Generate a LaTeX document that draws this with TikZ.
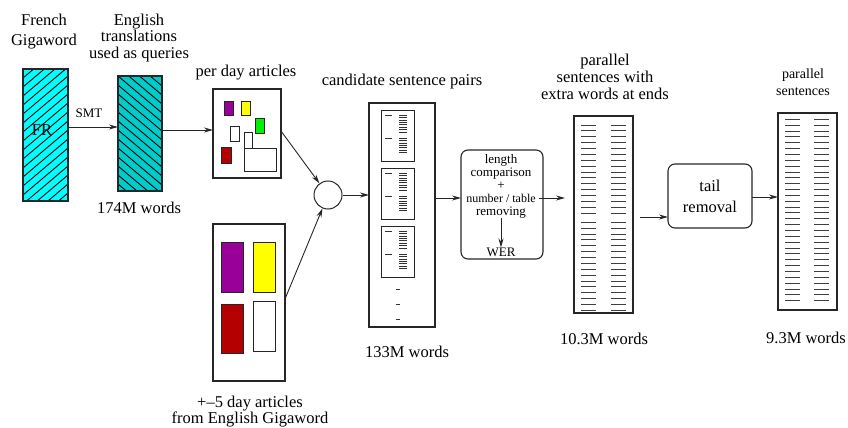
\documentclass[tikz,border=0pt]{standalone}
\usepackage{fontspec}
\setmainfont{Liberation Serif}
\newfontfamily\tnr{Liberation Serif}
\usetikzlibrary{arrows.meta,calc}
\definecolor{cyanA}{RGB}{0,255,255}
\definecolor{cyanB}{RGB}{0,204,204}
\definecolor{purp}{RGB}{153,0,153}
\definecolor{yel}{RGB}{255,255,0}
\definecolor{grn}{RGB}{0,240,0}
\definecolor{redd}{RGB}{180,0,0}
\begin{document}
\begin{tikzpicture}[x=1pt,y=-1pt,
  box/.style={draw=black!85, line width=1.1pt, inner sep=0pt, outer sep=0pt},
  rbox/.style={box, rounded corners=7pt},
  minibox/.style={draw=black!85, line width=0.8pt, inner sep=0pt, outer sep=0pt},
  hatch/.style={line width=0.9pt, black},
  arr/.style={-{Stealth[length=9pt,width=5pt]}, line width=0.9pt, black!85},
  big/.style={font=\tnr\fontsize{16.5}{16.7}\selectfont, inner sep=0pt, outer sep=0pt},
  small/.style={font=\tnr\fontsize{13}{13}\selectfont, inner sep=0pt, outer sep=0pt},
  rowl/.style={line width=0.9pt, black!75},
  thinl/.style={line width=0.6pt, black!80},
]
\useasboundingbox (0,0) rectangle (848,428);

% ---------- French Gigaword box ----------
\node[box, fill=cyanA, minimum width=45pt, minimum height=132pt] (fr) at (45.5,135) {};
\begin{scope}
  \clip (23,69) rectangle (68,201);
  \foreach \c in {69,78,...,249} \draw[hatch] (23,\c) -- (68,\c-38);
\end{scope}
\draw[box] (fr.north west) rectangle (fr.south east);
\node[big, anchor=base] (frl) at (42,135) {FR};

% ---------- English translations box ----------
\node[box, fill=cyanB, minimum width=44pt, minimum height=115pt] (en) at (140,133.5) {};
\begin{scope}
  \clip (118,76) rectangle (162,191);
  \foreach \c in {40,49,...,200} \draw[hatch] (118,\c) -- (162,\c+37);
\end{scope}
\draw[box] (en.north west) rectangle (en.south east);

% ---------- per day articles ----------
\node[box, minimum width=68pt, minimum height=89pt] (pd) at (247,133.5) {};
\node[minibox, fill=purp, minimum width=9pt, minimum height=14pt] (pd1) at (228.5,108) {};
\node[minibox, fill=yel, minimum width=9pt, minimum height=14pt] (pd2) at (245.5,108) {};
\node[minibox, fill=grn, minimum width=9pt, minimum height=15pt] (pd3) at (259.5,125.5) {};
\node[minibox, fill=white, minimum width=9pt, minimum height=15pt] (pd4) at (234.5,133.5) {};
\node[minibox, fill=white, minimum width=8pt, minimum height=16pt] (pd5) at (248,140) {};
\node[minibox, fill=redd, minimum width=10pt, minimum height=16pt] (pd6) at (226,155) {};
\node[minibox, fill=white, minimum width=32pt, minimum height=23pt] (pd7) at (260,159.5) {};

% ---------- +-5 day articles ----------
\node[box, minimum width=72pt, minimum height=157pt] (lo) at (249,302.5) {};
\node[minibox, fill=purp, minimum width=22pt, minimum height=50pt] (lo1) at (232,267) {};
\node[minibox, fill=yel, minimum width=22pt, minimum height=50pt] (lo2) at (264,267) {};
\node[minibox, fill=redd, minimum width=22pt, minimum height=49pt] (lo3) at (232,328.5) {};
\node[minibox, fill=white, minimum width=22pt, minimum height=50pt] (lo4) at (264,326) {};

% ---------- merge circle ----------
\node[draw=black!85, circle, minimum size=28pt, inner sep=0pt, line width=1pt] (circ) at (328,195) {};

% ---------- candidate sentence pairs ----------
\node[box, minimum width=66pt, minimum height=224pt] (cand) at (402,215) {};
\foreach \t [count=\k] in {110,168,226} {
  \node[minibox, line width=1pt, minimum width=33pt, minimum height=51pt] (cb\k) at (397.5,\t+25.5) {};
  \draw[thinl] (385,\t+5.5) -- (392,\t+5.5);
  \draw[thinl] (385,\t+28.5) -- (392,\t+28.5);
  \foreach \i in {0,...,7} \draw[thinl] (399,\t+5+2.4*\i) -- (407,\t+5+2.4*\i);
  \foreach \i in {0,...,6} \draw[thinl] (399,\t+28+2.4*\i) -- (407,\t+28+2.4*\i);
}
\foreach \y in {289,304,319} \draw[thinl, line width=0.8pt] (396,\y) -- (400,\y);

% ---------- length comparison box ----------
\node[rbox, minimum width=82pt, minimum height=109pt] (len) at (502,204.5) {};
\node[small, align=center, anchor=north] (lt) at (501,154.5)
  {length\\comparison\\+\\{\fontsize{12}{13}\selectfont number / table}\\removing};
\node[small, anchor=base] (wer) at (501,256) {WER};
\draw[arr] (lt.south) -- (wer.north);

% ---------- parallel sentences with extra words ----------
\node[box, minimum width=59pt, minimum height=197pt] (p1) at (603.5,214.5) {};
\foreach \i in {0,...,15} {
  \draw[rowl] (581,125+5.87*\i) -- (596,125+5.87*\i);
  \draw[rowl] (611,125+5.87*\i) -- (626,125+5.87*\i);
  \draw[rowl] (581,222.3+5.87*\i) -- (596,222.3+5.87*\i);
  \draw[rowl] (611,222.3+5.87*\i) -- (626,222.3+5.87*\i);
}

% ---------- tail removal ----------
\node[rbox, minimum width=84pt, minimum height=64pt, align=center,
      font=\tnr\fontsize{16.5}{21}\selectfont] (tail) at (710,196) {tail\\removal};

% ---------- parallel sentences ----------
\node[box, minimum width=59pt, minimum height=197pt] (p2) at (807.5,211.5) {};
\foreach \i in {0,...,31} {
  \draw[rowl] (785,119.3+5.85*\i) -- (800,119.3+5.85*\i);
  \draw[rowl] (814,119.3+5.85*\i) -- (829,119.3+5.85*\i);
}

% ---------- captions ----------
\node[big, align=center, anchor=north, font=\tnr\fontsize{16.5}{20}\selectfont] (t1) at (44,13.7) {French\\Gigaword};
\node[big, align=center, anchor=north] (t2) at (139,13.7) {English\\translations\\used as queries};
\node[big, anchor=base] (t3) at (246,76) {per day articles};
\node[big, anchor=base] (t4) at (402,85) {candidate sentence pairs};
\node[big, align=center, anchor=north] (t5) at (605,54.3) {parallel\\sentences with\\extra words at ends};
\node[align=center, anchor=north, inner sep=0pt, font=\tnr\fontsize{14}{17}\selectfont] (t6) at (803,68.5) {parallel\\sentences};
\node[big, anchor=base] (t7) at (139,213) {174M words};
\node[big, anchor=base] (t8) at (407,357) {133M words};
\node[big, anchor=base] (t9) at (604,344) {10.3M words};
\node[big, anchor=base] (t10) at (806,343) {9.3M words};
\node[big, align=center, anchor=north] (t11) at (250,395.7) {+–5 day articles\\from English Gigaword};
\node[small, anchor=base] (smt) at (89,117) {SMT};

% ---------- connectors ----------
\draw[arr] ([yshift=8pt]fr.east) -- ([yshift=6.5pt]en.west);
\draw[arr] ([yshift=3.5pt]en.east) -- ([yshift=3.5pt]pd.west);
\draw[arr] ([yshift=2.5pt]pd.east) -- (circ);
\draw[arr] ([yshift=3.5pt]lo.east) -- (circ);
\draw[arr] (circ.east) -- (circ.east -| cand.west);
\coordinate (a1) at ([yshift=17pt]cand.east);
\draw[arr] (a1) -- (a1 -| len.west);
\coordinate (a2) at ([xshift=-4pt,yshift=6.5pt]len.east);
\draw[arr, shorten >=9pt] (a2) -- (a2 -| p1.west);
\coordinate (a3) at ([yshift=-2.5pt]p1.east);
\draw[arr, shorten <=7pt] (a3) -- (a3 -| tail.west);
\coordinate (a4) at ([yshift=-1pt]tail.east);
\draw[arr] (a4) -- (a4 -| p2.west);
\end{tikzpicture}
\end{document}
